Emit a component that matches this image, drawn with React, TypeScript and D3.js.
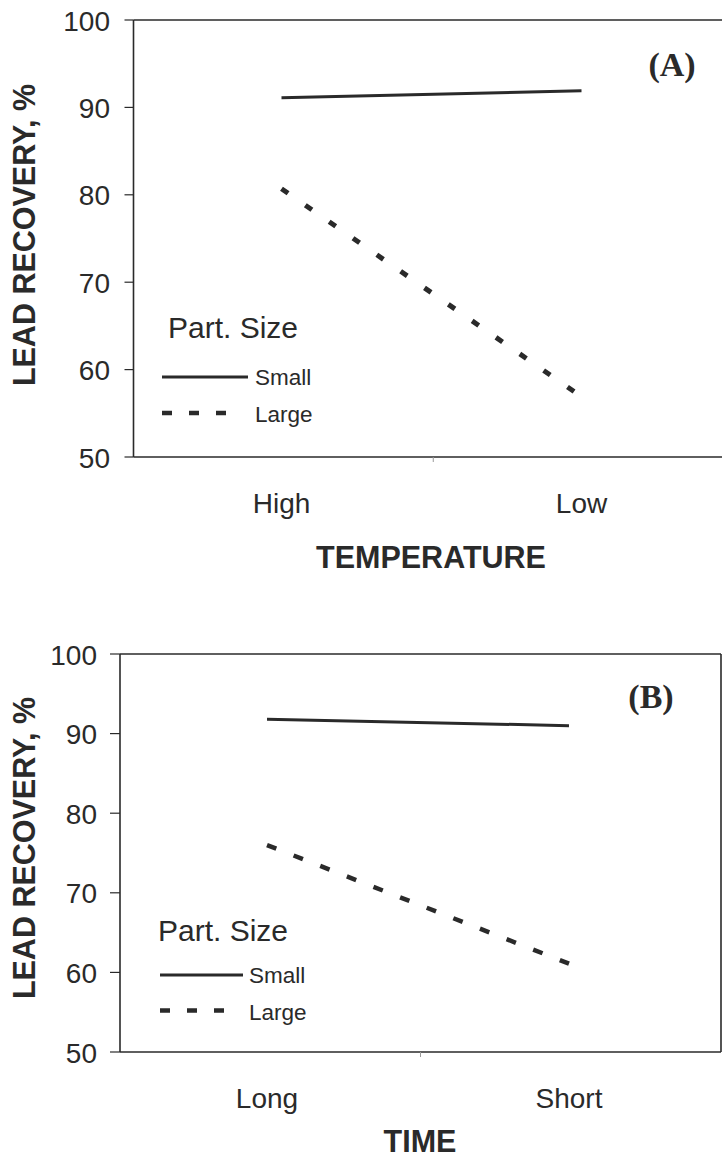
import React from "react";
import * as d3 from "d3";

// Category labels on the x axes
const temperatureLevels = ["High", "Low"];
const timeLevels = ["Long", "Short"];

// Lead recovery (%) by particle size
const smallByTemperature = [91.1, 91.9];
const largeByTemperature = [80.7, 56.9];
const smallByTime = [91.8, 91.0];
const largeByTime = [76.0, 61.1];

const yTickValues = [50, 60, 70, 80, 90, 100];

const SANS = "'Liberation Sans', Arial, Helvetica, sans-serif";
const SERIF = "'Liberation Serif', 'Times New Roman', serif";
const INK = "#2a2a2a";

type PanelProps = {
  categories: string[];
  small: number[];
  large: number[];
  frame: { left: number; right: number; top: number; bottom: number };
  xRange: [number, number];
  showRight: boolean;
  tickLabelRight: number;
  tickLength: number;
  xLabelBaseline: number;
  xTitle: string;
  xTitleX: number;
  xTitleBaseline: number;
  yTitleCenter: number;
  tag: string;
  tagX: number;
  tagBaseline: number;
  legend: { titleX: number; titleY: number; lineX0: number; lineX1: number; smallY: number; largeY: number; textX: number; largeX1: number };
  dash: string;
  dashWidth: number;
};

function Panel(p: PanelProps) {
  const x = d3.scalePoint<string>().domain(p.categories).range(p.xRange).padding(0.5);
  const y = d3.scaleLinear().domain([50, 100]).range([p.frame.bottom, p.frame.top]);
  const line = d3
    .line<number>()
    .x((_, i) => x(p.categories[i]) as number)
    .y((d) => y(d));
  const { left, right, top, bottom } = p.frame;
  const midX = (left + right) / 2;
  return (
    <g>
      {/* frame */}
      <line x1={left} x2={right} y1={top} y2={top} stroke={INK} strokeWidth={1.6} />
      <line x1={left} x2={right} y1={bottom} y2={bottom} stroke={INK} strokeWidth={1.6} />
      <line x1={left} x2={left} y1={top} y2={bottom} stroke={INK} strokeWidth={1.6} />
      {p.showRight && <line x1={right} x2={right} y1={top} y2={bottom} stroke={INK} strokeWidth={1.6} />}
      {/* category divider tick */}
      <line x1={midX} x2={midX} y1={bottom} y2={bottom + 5} stroke="#999" strokeWidth={1} />
      {/* y ticks */}
      {yTickValues.map((t) => (
        <g key={t}>
          <line x1={left - p.tickLength} x2={left} y1={y(t)} y2={y(t)} stroke={INK} strokeWidth={1.2} />
          <text x={p.tickLabelRight} y={y(t) + 10.5} textAnchor="end" fontFamily={SANS} fontSize={28} fill={INK}>
            {t}
          </text>
        </g>
      ))}
      {/* x category labels */}
      {p.categories.map((c) => (
        <text key={c} x={x(c)} y={p.xLabelBaseline} textAnchor="middle" fontFamily={SANS} fontSize={28} fill={INK}>
          {c}
        </text>
      ))}
      <text x={p.xTitleX} y={p.xTitleBaseline} textAnchor="middle" fontFamily={SANS} fontSize={30.5} fontWeight="bold" fill={INK}>
        {p.xTitle}
      </text>
      <text
        transform={`translate(35, ${p.yTitleCenter}) rotate(-90)`}
        textAnchor="middle"
        fontFamily={SANS}
        fontSize={30.5}
        fontWeight="bold"
        fill={INK}
      >
        LEAD RECOVERY, %
      </text>
      {/* series */}
      <path d={line(p.small) ?? ""} fill="none" stroke={INK} strokeWidth={3} />
      <path d={line(p.large) ?? ""} fill="none" stroke={INK} strokeWidth={p.dashWidth} strokeDasharray={p.dash} />
      {/* panel tag */}
      <text x={p.tagX} y={p.tagBaseline} textAnchor="middle" fontFamily={SERIF} fontSize={34} fontWeight="bold" fill={INK}>
        {p.tag}
      </text>
      {/* legend */}
      <text x={p.legend.titleX} y={p.legend.titleY} fontFamily={SANS} fontSize={30} fill={INK}>
        Part. Size
      </text>
      <line x1={p.legend.lineX0} x2={p.legend.lineX1} y1={p.legend.smallY} y2={p.legend.smallY} stroke={INK} strokeWidth={3} />
      <text x={p.legend.textX} y={p.legend.smallY + 8} fontFamily={SANS} fontSize={22.5} fill={INK}>
        Small
      </text>
      <line
        x1={p.legend.lineX0}
        x2={p.legend.largeX1}
        y1={p.legend.largeY}
        y2={p.legend.largeY}
        stroke={INK}
        strokeWidth={4.5}
        strokeDasharray="10 17"
      />
      <text x={p.legend.textX} y={p.legend.largeY + 9} fontFamily={SANS} fontSize={22.5} fill={INK}>
        Large
      </text>
    </g>
  );
}

export default function App() {
  return (
    <svg
      width={722}
      height={1160}
      style={{ position: "absolute", left: 0, top: 0, background: "#fff" }}
      xmlns="http://www.w3.org/2000/svg"
    >
      <rect width={722} height={1160} fill="#fff" />
      <Panel
        categories={temperatureLevels}
        small={smallByTemperature}
        large={largeByTemperature}
        frame={{ left: 133.5, right: 733, top: 20, bottom: 457 }}
        xRange={[131.5, 731.5]}
        showRight={false}
        tickLabelRight={110}
        tickLength={9}
        xLabelBaseline={513}
        xTitle="TEMPERATURE"
        xTitleX={431}
        xTitleBaseline={568}
        yTitleCenter={235}
        tag="(A)"
        tagX={672}
        tagBaseline={76}
        legend={{ titleX: 168, titleY: 338, lineX0: 162, lineX1: 248, smallY: 377, largeY: 413, textX: 255, largeX1: 232 }}
        dash="8 21"
        dashWidth={5}
      />
      <Panel
        categories={timeLevels}
        small={smallByTime}
        large={largeByTime}
        frame={{ left: 120, right: 721, top: 654, bottom: 1052 }}
        xRange={[116, 720]}
        showRight={true}
        tickLabelRight={97}
        tickLength={10}
        xLabelBaseline={1108}
        xTitle="TIME"
        xTitleX={420}
        xTitleBaseline={1152}
        yTitleCenter={848}
        tag="(B)"
        tagX={651}
        tagBaseline={708}
        legend={{ titleX: 158, titleY: 941, lineX0: 160, lineX1: 243, smallY: 975, largeY: 1010.5, textX: 249, largeX1: 228 }}
        dash="10 18.6"
        dashWidth={4.5}
      />
    </svg>
  );
}
